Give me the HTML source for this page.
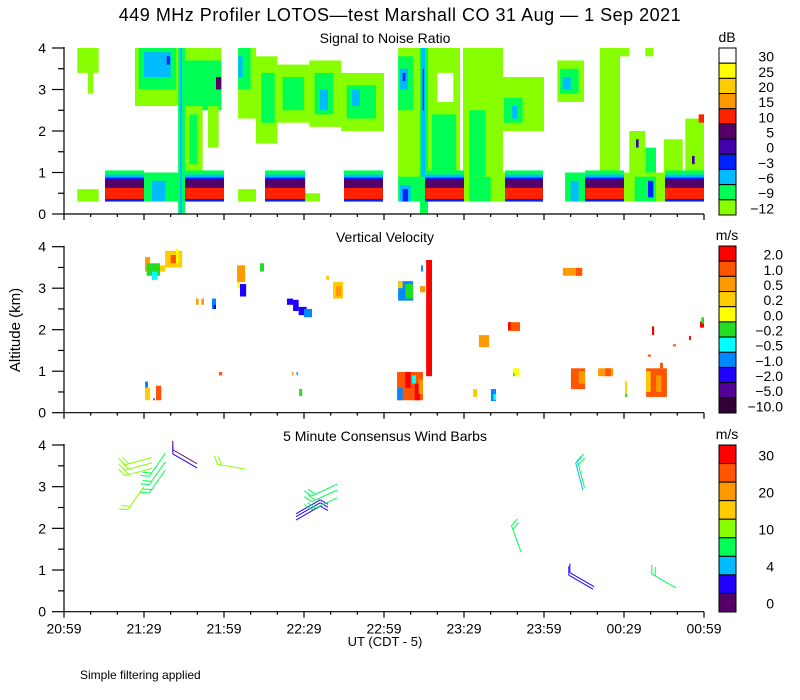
<!DOCTYPE html>
<html><head><meta charset="utf-8"><style>
body{margin:0;background:#fff}
svg{display:block;font-family:"Liberation Sans",sans-serif}
</style></head><body>
<svg id="chart" width="800" height="700" viewBox="0 0 800 700" xmlns="http://www.w3.org/2000/svg">
<rect width="800" height="700" fill="#fff"/>
<text x="400" y="21" font-size="18" text-anchor="middle" letter-spacing="0.5">449 MHz Profiler LOTOS—test Marshall CO 31 Aug —  1 Sep 2021</text>
<text x="385" y="43" font-size="14" text-anchor="middle">Signal to Noise Ratio</text>
<text x="385" y="242" font-size="14" text-anchor="middle">Vertical Velocity</text>
<text x="385" y="441" font-size="14" text-anchor="middle">5 Minute Consensus Wind Barbs</text>
<text x="0" y="0" font-size="15" text-anchor="middle" transform="translate(20,330) rotate(-90)">Altitude (km)</text>
<text x="385" y="646" font-size="13" text-anchor="middle">UT  (CDT - 5)</text>
<text x="80" y="679" font-size="12">Simple filtering applied</text>
<g id="plots"></g>
</svg>
<script>
// ---- data ----
const xTickLabels = ["20:59","21:29","21:59","22:29","22:59","23:29","23:59","00:29","00:59"];
const yTickLabels = ["0","1","2","3","4"];
const snrLevels = ["30","25","20","15","10","5","0","−3","−6","−9","−12"];
const velLevels = ["2.0","1.0","0.5","0.2","0.0","−0.2","−0.5","−1.0","−2.0","−5.0","−10.0"];
const windLevels = ["30","","20","","10","","4","","0"];
// SNR cells: [t0(min), t1, alt0(km), alt1, level(0=-12 ... 10=30)]
const snrCells = [
[5,13,0.3,0.6,0],[65.3,72,0.3,0.6,0],[90.4,96,0.3,0.5,0],
[30,45,0.3,1.0,1],[33,38,0.3,0.8,2],
[125.3,135.4,0.3,1.0,1],[126,130,0.3,0.7,2],[127,129,0.3,0.6,3],
[150,165.4,0.3,1.0,0],[152,160,0.3,0.9,1],
[187.9,195.4,0.3,1.0,1],[190,193,0.3,0.8,2],
[210,225.4,0.3,1.0,0],[214,222,0.3,0.9,1],[219,221,0.4,0.8,3],
[5,13,3.4,4,0],[9,11,2.9,3.4,0],
[26.6,59,2.6,4,0],[28,42,3.0,4,1],[30,40,3.3,3.9,2],[38.5,39.8,3.6,3.8,3],[44,59,2.5,3.7,1],[57,59,3.0,3.3,5],
[45.4,52,1.0,2.6,0],[47,50,1.2,2.4,1],[54,58,1.6,2.6,0],
[42.8,45.4,0,4,1],[43.5,44.3,0,4,2],
[65.3,72,2.3,4,0],[65.3,70,3.0,4,1],[65.3,67,3.3,3.8,2],[72,80,1.7,3.8,0],[74,79,2.2,3.4,1],
[80,92,2.2,3.6,0],[82,90,2.5,3.3,1],[92,104,2.1,3.7,0],[94,101,2.4,3.4,1],[96,99,2.5,3.0,2],
[104,120,2.0,3.4,0],[106,117,2.3,3.1,1],[108,111,2.6,3.0,2],
[125.3,133.5,0.9,4,0],[125.3,131,2.5,3.8,1],[126,129,3.0,3.5,2],[127,128,3.2,3.4,3],
[133.5,136.5,0,4,1],[134,135.5,0.9,4,2],[134.5,135,2.5,3.5,3],
[136.5,148.5,0.9,4,0],[138,147,1.0,2.4,1],[140,146,2.7,3.4,10],
[149.6,164.6,0.9,4,0],[152,158,0.9,2.5,1],
[164.6,180,2.0,3.3,0],[165,172,2.2,2.8,1],[168,170,2.3,2.6,2],
[185,195,2.7,3.7,0],[186,193,2.9,3.5,1],[187,190,3.0,3.3,2],
[201,208.5,0.9,4,0],
[212,218,1.0,2.0,0],[218,222,1.0,1.6,1],[225,232,1.0,1.8,0],[233,240,1.0,2.3,0],
[214.5,215.5,1.6,1.8,4],[235.5,236.5,1.2,1.4,4],[238,240,2.2,2.4,6],[208.5,212,3.8,4,0],[218,221,3.8,4,0]
];
// dwell blocks (start,end minutes) for the strong lower layer
const snrBlockStart = [15.4,45.4,75.4,105,135.4,165.4,195.4,225.4];
const snrBlockEnd   = [30,60,90.4,119.6,150,179.6,210,240];
// Vertical velocity cells: [t0,t1,alt0,alt1,level(0=2.0 ... 10=-10)]
const velCells = [
[30.4,32.3,3.4,3.75,2],[31,36,3.3,3.6,5],[33,35,3.2,3.4,6],[36,37.9,3.4,3.55,3],[37.9,44.3,3.5,3.9,3],[40,42,3.6,3.8,1],[42,43,3.6,3.95,4],
[49.5,50.5,2.6,2.75,2],[51.5,52.5,2.6,2.75,2],[55.5,57,2.5,2.75,7],[56,57,2.5,2.6,8],
[64.9,67.9,3.15,3.55,2],[65,66,3.0,3.15,4],[66,68.3,2.8,3.1,8],
[73.5,75,3.4,3.6,5],
[83.6,85.9,2.6,2.75,8],[85.9,88,2.45,2.72,8],[88,91,2.35,2.55,8],[90,93,2.3,2.5,7],
[98.3,99.4,3.2,3.3,3],[100.9,104.6,2.75,3.15,3],[102,104,2.8,3.05,2],
[30.4,31.5,0.6,0.75,7],[30.4,32.3,0.3,0.6,3],[33.5,34,0.3,0.35,9],[34.5,36.5,0.3,0.65,1],
[58.1,59.3,0.9,0.98,1],[85.5,86,0.9,0.98,2],[87.2,87.7,0.9,0.98,7],[88.2,89.3,0.4,0.57,5],
[124.9,134.6,0.3,0.98,1],[125,127,0.3,0.6,7],[128,130,0.6,0.98,0],[130.5,132,0.7,0.9,6],[131.5,133.5,0.3,0.7,0],[133,134.6,0.45,0.8,2],
[125.3,130.9,2.7,3.17,7],[128,130.9,2.75,3.1,5],[125.3,127,3.0,3.17,3],
[133.5,135.4,2.9,3.05,2],[133.9,134.6,3.4,3.55,7],
[135.8,138,0.88,3.68,0],
[153.4,154.9,0.38,0.57,3],[160.1,162,0.28,0.57,7],[161,162,0.3,0.45,6],
[155.6,159.4,1.58,1.87,2],[166.5,171,1.97,2.18,1],[166.5,167.5,2.0,2.18,0],[168.4,170.6,0.88,1.07,4],[168.4,169,0.88,0.95,5],
[187.1,194.3,3.3,3.49,2],[192,194.3,3.3,3.49,1],[190.1,195.4,0.57,1.07,1],[193,195.4,0.7,1.0,2],[200.3,205.9,0.88,1.07,2],[203,205,0.88,1.07,1],
[210.4,211.1,0.38,0.76,3],[210.4,211.1,0.38,0.45,5],
[218.3,226.1,0.38,1.07,1],[218.3,220,0.5,1.0,3],[222,224,0.5,0.9,2],
[220.5,221.3,1.87,2.08,0],[219,220.1,1.35,1.4,1],[223.5,224.6,1.07,1.2,1],[228.4,229.5,1.6,1.65,1],[234.4,235.1,1.75,1.85,0],[238.5,240,2.05,2.2,0],[239,240,2.15,2.3,5]
];
// Wind barbs
const barbT   = [33,33,33,30,38,38,38,49.9,49.9,67.9,87,87,87,102.4,102.4,102.4,171.4,194.6,195.2,198.4,198.8,229.5];
const barbAlt = [3.7,3.57,3.44,3.0,3.8,3.6,3.4,3.55,3.45,3.42,2.2,2.28,2.35,3.06,2.92,2.73,1.43,2.92,2.98,0.54,0.6,0.57];
const barbSpd = [11,11,11,11,8,8,8,1.5,3,12,3,3,3,8,8,8,8,5,8,3,3,8];
const barbDir = [255,255,255,215,215,215,215,300,300,280,60,60,60,245,245,245,340,345,345,300,300,300];

// ---- styling ----
const snrColors = ["#88ff00","#00ff55","#00bbff","#0022ff","#4400aa","#550066","#ff2200","#ff9900","#ffcc00","#ffff00","#ffffff"];
const velColors = ["#ff0000","#ff5500","#ff9900","#ffcc00","#ffff00","#22dd22","#00ffff","#0088ff","#2200ff","#550099","#330033"];
const windColors = ["#ff0000","#ff5500","#ff9900","#ffcc00","#88ff00","#00ff55","#00bbff","#2200ff","#550066"];
const windEdges = [30,25,20,15,10,7,4,2];
const NS="http://www.w3.org/2000/svg";
const root=document.getElementById('plots');
const X0=64,X1=704;
const panels=[{y0:214,y4:48},{y0:412.7,y4:246.7},{y0:611.7,y4:445}];
function xs(t){return X0+t*(X1-X0)/240;}
function ys(p,a){return p.y0-a*(p.y0-p.y4)/4;}
function mk(tag,attrs,parent){const e=document.createElementNS(NS,tag);for(const k in attrs)e.setAttribute(k,attrs[k]);(parent||root).appendChild(e);return e;}

function drawCells(p,cells,colors,name){
  const g=mk('g',{});
  
  
  cells.forEach(c=>{
    const r=mk('rect',{x:xs(c[0]),y:ys(p,c[3]),width:Math.max(1,xs(c[1])-xs(c[0])),height:Math.max(1,ys(p,c[2])-ys(p,c[3])),fill:colors[c[4]]},g);
    
    
  });
}
const blockCells=[];
snrBlockStart.forEach((s,i)=>{const e=snrBlockEnd[i];
  blockCells.push([s,e,0.3,1.05,1],[s,e,0.3,0.95,2],[s,e,0.3,0.88,3],[s,e,0.35,0.83,5],[s,e,0.36,0.63,6]);});
drawCells(panels[0],snrCells,snrColors,'snr');
drawCells(panels[0],blockCells,snrColors,'snr-block');
drawCells(panels[1],velCells,velColors,'velocity');

// wind barbs
const bg=mk('g',{});


barbT.forEach((t,i)=>{
  const p=panels[2],sx=xs(t),sy=ys(p,barbAlt[i]),d=barbDir[i]*Math.PI/180,L=28;
  let ci=8;for(let k=0;k<windEdges.length;k++){if(barbSpd[i]>=windEdges[k]){ci=k;break;}}
  const col=windColors[ci];
  const ex=sx+Math.sin(d)*L,ey=sy-Math.cos(d)*L;
  const b=mk('g',{stroke:col,'stroke-width':1,fill:'none'},bg);
  
  
  mk('line',{x1:sx,y1:sy,x2:ex,y2:ey},b);
  const n=Math.max(1,Math.round(barbSpd[i]/5));
  for(let k=0;k<n;k++){
    const bx=sx+Math.sin(d)*(L-k*4),by=sy-Math.cos(d)*(L-k*4);
    const bd=d+Math.PI/3;
    mk('line',{x1:bx,y1:by,x2:bx+Math.sin(bd)*9,y2:by-Math.cos(bd)*9},b);
  }
});

// axes
panels.forEach((p,pi)=>{
  const ax=mk('g',{stroke:'#000','stroke-width':1.2});
  
  
  mk('line',{x1:X0,y1:p.y4-1,x2:X0,y2:p.y0},ax);
  mk('line',{x1:X0,y1:p.y0,x2:X1,y2:p.y0},ax);
  for(let a=0;a<=4;a+=0.5){const y=ys(p,a),maj=a%1===0;mk('line',{x1:maj?52:58,y1:y,x2:X0,y2:y},ax);}
  yTickLabels.forEach((l,k)=>{const t=mk('text',{x:46,y:ys(p,k)+5,'font-size':14,'text-anchor':'end',stroke:'none'},ax);t.textContent=l;
    });
  for(let m=0;m<=240;m+=10){const x=xs(m),maj=m%30===0;mk('line',{x1:x,y1:p.y0,x2:x,y2:p.y0+(maj?6:3)},ax);}
  if(pi===2){xTickLabels.forEach((l,k)=>{const t=mk('text',{x:xs(k*30),y:p.y0+22,'font-size':14,'text-anchor':'middle',stroke:'none'},ax);t.textContent=l;
    });}
});

// colorbars (colors listed top to bottom)
function colorbar(top,bottom,colors,labels,unit,name,lx){
  const g=mk('g',{});
  
  
  const h=(bottom-top)/colors.length;
  colors.forEach((c,i)=>{mk('rect',{x:719,y:top+i*h,width:17,height:h,fill:c,stroke:'#000','stroke-width':1},g);
    if(labels[i]){const t=mk('text',{x:lx,y:top+i*h+h/2+6,'font-size':14,'text-anchor':'end'},g);t.textContent=labels[i];
      }});
  const u=mk('text',{x:727,y:top-6,'font-size':14,'text-anchor':'middle'},g);u.textContent=unit;
}
colorbar(48,215,snrColors.slice().reverse(),snrLevels,'dB','snr-colorbar',774);
colorbar(246,413,velColors,velLevels,'m/s','velocity-colorbar',783);
colorbar(445,612,windColors,windLevels,'m/s','wind-colorbar',774);
</script>
</body></html>
